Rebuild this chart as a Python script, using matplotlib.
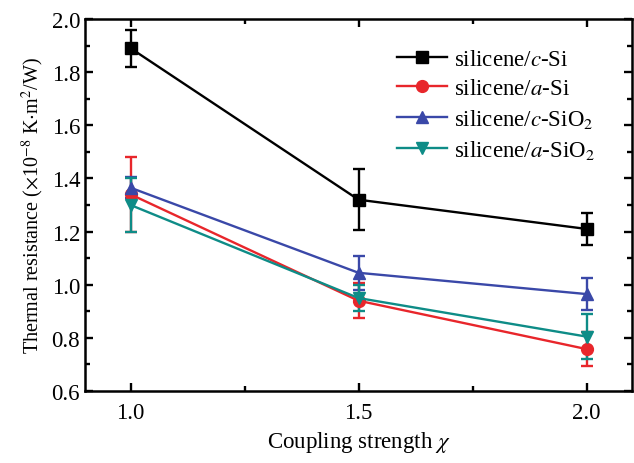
import numpy as np
import matplotlib
matplotlib.use("Agg")
import matplotlib.pyplot as plt
from matplotlib.ticker import MultipleLocator
from matplotlib.lines import Line2D

plt.rcParams["font.family"] = ["Liberation Serif", "DejaVu Serif"]
plt.rcParams["mathtext.fontset"] = "stix"

# Data
chi = [1.0, 1.5, 2.0]
c_si = [1.89, 1.32, 1.21]
c_si_err = [0.07, 0.115, 0.06]
a_si = [1.34, 0.94, 0.758]
a_si_err = [0.14, 0.065, 0.065]
c_sio2 = [1.365, 1.045, 0.965]
c_sio2_err = [0.04, 0.065, 0.06]
a_sio2 = [1.30, 0.95, 0.805]
a_sio2_err = [0.10, 0.05, 0.085]

series = [
    (c_si, c_si_err, "black", "s", "silicene/$c$-Si"),
    (a_si, a_si_err, "#e8262b", "o", "silicene/$a$-Si"),
    (c_sio2, c_sio2_err, "#3a48a8", "^", "silicene/$c$-SiO$_2$"),
    (a_sio2, a_sio2_err, "#0e8c87", "v", "silicene/$a$-SiO$_2$"),
]

fig = plt.figure(figsize=(6.34, 4.64), dpi=100)
ax = fig.add_axes([0.134, 0.155, 0.863, 0.802])

handles = []
for y, err, col, mk, lab in series:
    ax.errorbar(chi, y, yerr=err, color=col, marker=mk, markersize=8.5,
                lw=1.7, elinewidth=1.7, capsize=4, capthick=1.7)
    handles.append(Line2D([], [], color=col, marker=mk, markersize=8.5, lw=1.7, label=lab))

ax.set_xlim(0.9, 2.1)
ax.set_ylim(0.6, 2.0)
ax.xaxis.set_major_locator(MultipleLocator(0.5))
ax.xaxis.set_minor_locator(MultipleLocator(0.25))
ax.yaxis.set_major_locator(MultipleLocator(0.2))
ax.yaxis.set_minor_locator(MultipleLocator(0.1))
ax.tick_params(which="both", direction="in", top=True, right=True, width=1.7, labelsize=16.5)
ax.tick_params(which="major", length=6)
ax.tick_params(which="minor", length=3.5)
ax.tick_params(axis="x", pad=8)
for s in ax.spines.values():
    s.set_linewidth(1.8)

ax.set_xlabel("Coupling strength $\\chi$", fontsize=16.5, labelpad=4)
ax.set_ylabel("Thermal resistance ($\\times$10$^{-8}$ K$\\cdot$m$^2$/W)", fontsize=14.5)

ax.legend(handles=handles, loc="upper right", frameon=False, fontsize=16.5,
          handlelength=2.2, handletextpad=0.3,
          bbox_to_anchor=(0.97, 0.975), labelspacing=0.35)

fig.savefig("out.png", dpi=100)
